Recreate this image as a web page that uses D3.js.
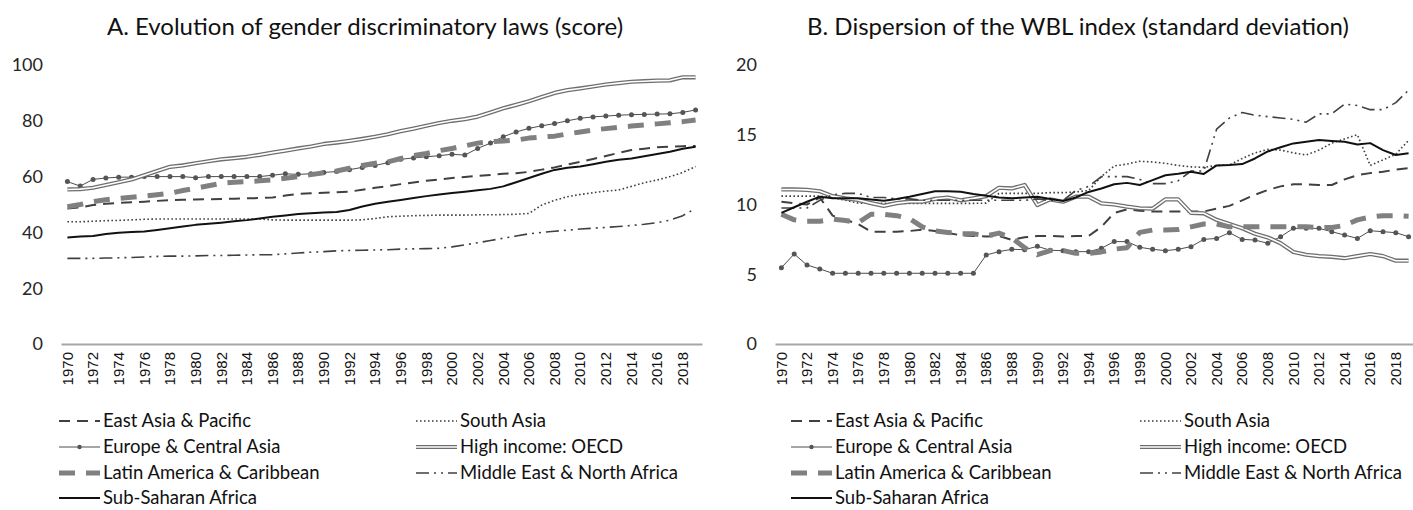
<!DOCTYPE html>
<html>
<head>
<meta charset="utf-8">
<script src="https://cdn.jsdelivr.net/npm/d3@7"></script>
<style>
  body { margin: 0; background: #fff; }
  svg { display: block; }
</style>
</head>
<body>
<svg width="1413" height="510"></svg>
<script>
// years on the x axis, labels every second year
const years = [1970,1971,1972,1973,1974,1975,1976,1977,1978,1979,
  1980,1981,1982,1983,1984,1985,1986,1987,1988,1989,
  1990,1991,1992,1993,1994,1995,1996,1997,1998,1999,
  2000,2001,2002,2003,2004,2005,2006,2007,2008,2009,
  2010,2011,2012,2013,2014,2015,2016,2017,2018,2019];
const yearTicks = [1970,1972,1974,1976,1978,1980,1982,1984,1986,1988,1990,1992,1994,
  1996,1998,2000,2002,2004,2006,2008,2010,2012,2014,2016,2018];
const ticksA = [0, 20, 40, 60, 80, 100];
const ticksB = [0, 5, 10, 15, 20];

// A. score
const eastAsiaA = [48.6,49,49.8,50.3,50.6,50.8,51,51.3,51.6,51.7,
  51.8,51.9,52,52.1,52.2,52.3,52.5,53.2,53.8,54,
  54.2,54.4,54.6,55.3,56,56.6,57.3,57.9,58.5,59,
  59.5,59.9,60.2,60.6,61,61.2,61.7,62.5,63.3,64.3,
  65.3,66.3,67.4,68.5,69.5,70,70.5,70.7,70.9,71];
const southAsiaA = [43.8,43.8,44,44.2,44.3,44.5,44.7,44.8,44.8,44.8,
  44.8,44.8,44.8,44.8,44.8,44.8,44.5,44.4,44.4,44.4,
  44.4,44.4,44.4,44.5,45,45.6,45.8,46,46.1,46.2,
  46.2,46.2,46.3,46.3,46.4,46.5,46.8,49.8,51.5,52.8,
  53.6,54.2,54.8,55.2,56.5,57.8,58.8,60,61.5,63.6];
const europeA = [58.2,56.6,59,59.5,59.8,59.8,60,60,60,60,
  59.6,60,60,60,60,60,60.5,61,60.8,61,
  61.5,61.8,62.5,63.3,64,65,66.2,66.7,67.1,67.5,
  68,67.7,70.1,72,74.3,76,77.3,78.2,79,80,
  80.9,81.4,81.7,82,82.2,82.3,82.4,82.5,83,83.9];
const highIncomeA = [55.4,55.5,56,57,58,59,60.5,62,63.5,64,
  64.8,65.5,66.2,66.6,67.1,67.8,68.6,69.3,70.1,70.8,
  71.7,72.2,72.8,73.5,74.3,75.2,76.3,77.2,78.2,79.2,
  80,80.6,81.5,83,84.5,85.7,87,88.5,90,91,
  91.6,92.3,93,93.5,94,94.2,94.4,94.5,95.6,95.6];
const latinA = [49.2,50,51,51.7,52.2,52.6,53,53.5,54,55,
  55.8,56.7,57.6,58,58.2,58.5,58.8,59.4,60,60.7,
  61.4,62,63,64,64.8,65.3,66.5,67.5,68.3,69.3,
  70.1,71,72,72.5,72.8,73.1,73.8,74.2,74.5,75.3,
  76,76.7,77.2,77.7,78.1,78.5,78.9,79.3,79.7,80.3];
const middleEastA = [30.7,30.7,30.7,30.8,30.9,31,31.2,31.4,31.5,31.5,
  31.6,31.7,31.7,31.8,31.9,32,32,32.3,32.6,32.9,
  33.1,33.4,33.5,33.6,33.7,33.8,34,34.1,34.2,34.3,
  34.8,35.5,36.3,37.1,37.9,38.7,39.5,40,40.4,40.8,
  41.2,41.5,41.8,42.1,42.5,42.9,43.5,44.4,46,48.6];
const subSaharanA = [38.2,38.5,38.7,39.4,39.9,40.1,40.3,40.9,41.5,42.1,
  42.7,43.1,43.5,44,44.4,45,45.6,46.1,46.6,46.9,
  47.1,47.3,48,49.3,50.3,51,51.6,52.3,53,53.6,
  54.1,54.6,55.1,55.6,56.5,58,59.5,61,62.4,63.2,
  63.6,64.4,65.3,66,66.5,67.3,68.1,68.9,70,70.7];

// B. standard deviation
const eastAsiaB = [10.2,10.1,10.0,10.5,9.2,8.9,8.6,8.05,8.05,8.05,
  8.1,8.2,8.1,7.95,7.8,7.75,7.7,7.75,7.46,7.65,
  7.75,7.75,7.7,7.74,7.74,8.4,9.4,9.65,9.55,9.5,
  9.49,9.49,9.49,9.5,9.7,9.9,10.3,10.7,11.04,11.3,
  11.45,11.45,11.4,11.4,11.8,12.1,12.25,12.35,12.5,12.6];
const southAsiaB = [10.6,10.6,10.6,10.6,10.5,10.3,10.1,10.08,10.08,10.08,
  10.08,10.08,10.08,10.08,10.08,10.08,10.1,10.8,10.8,10.8,
  10.8,10.85,10.85,10.9,11.0,12.0,12.76,12.9,13.1,13.05,
  12.95,12.8,12.7,12.66,12.8,12.83,13.3,13.7,13.95,13.9,
  13.7,13.55,13.9,14.4,14.7,15.0,12.8,13.2,13.6,14.6];
const europeB = [5.47,6.45,5.66,5.38,5.07,5.07,5.07,5.07,5.07,5.07,
  5.07,5.07,5.07,5.07,5.07,5.07,6.38,6.62,6.79,6.76,
  7.0,6.72,6.69,6.62,6.62,6.86,7.34,7.34,6.93,6.79,
  6.69,6.79,6.98,7.5,7.57,7.98,7.5,7.45,7.22,7.69,
  8.29,8.29,8.29,8.05,7.81,7.57,8.12,8.05,7.98,7.69];
const highIncomeB = [11.08,11.08,11.05,10.95,10.6,10.44,10.32,10.1,9.9,10.1,
  10.2,10.2,10.4,10.5,10.3,10.44,10.6,11.2,11.15,11.4,
  9.96,10.37,10.2,10.56,10.56,10.08,10.0,9.85,9.73,9.7,
  10.37,10.37,9.4,9.37,8.9,8.6,8.3,7.9,7.64,7.22,
  6.6,6.4,6.3,6.25,6.15,6.3,6.45,6.3,5.97,5.97];
const latinB = [9.3,8.9,8.8,8.8,8.95,8.85,8.7,9.3,9.3,9.2,
  9.0,8.4,8.1,8.0,7.9,7.9,7.75,7.95,7.6,6.9,
  6.4,6.7,6.7,6.5,6.5,6.6,6.8,6.9,8.0,8.17,
  8.17,8.2,8.4,8.6,8.6,8.4,8.4,8.4,8.4,8.4,
  8.4,8.4,8.35,8.35,8.5,8.9,9.1,9.2,9.2,9.15];
const middleEastB = [9.75,9.75,9.75,10.3,10.7,10.8,10.8,10.5,10.5,10.4,
  10.4,10.3,10.3,10.3,10.3,10.3,10.3,10.3,10.3,10.3,
  10.4,10.3,10.3,11.0,11.3,12.0,12.0,12.0,11.8,11.5,
  11.5,11.7,12.4,12.4,15.4,16.2,16.6,16.4,16.3,16.2,
  16.1,15.9,16.5,16.5,17.2,17.1,16.8,16.8,17.3,18.2];
const subSaharanB = [9.4,9.8,10.2,10.56,10.45,10.44,10.44,10.35,10.27,10.4,
  10.56,10.75,10.95,10.95,10.92,10.75,10.62,10.5,10.44,10.5,
  10.56,10.4,10.25,10.5,10.9,11.15,11.45,11.55,11.4,11.75,
  12.1,12.2,12.35,12.19,12.8,12.83,12.9,13.3,13.8,14.1,
  14.38,14.5,14.62,14.55,14.5,14.3,14.4,13.9,13.55,13.67];

const names = ["East Asia & Pacific", "South Asia", "Europe & Central Asia", "High income: OECD",
  "Latin America & Caribbean", "Middle East & North Africa", "Sub-Saharan Africa"];

// line styles, one per region
const styles = {
  "East Asia & Pacific": { stroke: "#404040", width: 2, dash: "11,7" },
  "South Asia": { stroke: "#404040", width: 1.6, dash: "1.6,2.4" },
  "Europe & Central Asia": { stroke: "#4d4d4d", width: 1, dash: null, marker: true },
  "High income: OECD": { stroke: "#6e6e6e", width: 4.2, dash: null, double: true },
  "Latin America & Caribbean": { stroke: "#808080", width: 5, dash: "16,11" },
  "Middle East & North Africa": { stroke: "#404040", width: 1.6, dash: "13,5,2,5,2,5" },
  "Sub-Saharan Africa": { stroke: "#111", width: 2, dash: null }
};

const svg = d3.select("svg");
const font = "Lato, 'Open Sans', sans-serif";

function panel(opts) {
  let x = d3.scaleBand().domain(years).range([opts.x0, opts.x1]);
  let y = d3.scaleLinear().domain(opts.domain).range([344, 65]);
  let g = svg.append("g");

  g.append("text")
    .attr("x", opts.titleX).attr("y", 35)
    .attr("text-anchor", "middle")
    .style("font", "24px " + font).style("fill", "#111")
    .text(opts.title);

  // y tick labels only, no axis line
  g.selectAll(".ytick").data(opts.ticks).enter().append("text")
    .attr("x", opts.x0 - 18).attr("y", d => y(d))
    .attr("dy", "0.35em").attr("text-anchor", "end")
    .style("font", "18px " + font).style("fill", "#262626")
    .text(d => d);

  let xAxis = g.append("g")
    .attr("transform", "translate(0,344)")
    .call(d3.axisBottom(x).tickValues(yearTicks).tickSize(0).tickPadding(7));
  xAxis.select(".domain").attr("stroke", "#a6a6a6").attr("stroke-width", 2);
  xAxis.selectAll("text")
    .attr("transform", "rotate(-90)")
    .attr("x", -8).attr("y", 0).attr("dy", "0.35em")
    .attr("text-anchor", "end")
    .style("font", "15px 'Liberation Sans', Arial, sans-serif").style("fill", "#111");

  let line = d3.line()
    .x((d, i) => x(years[i]) + x.bandwidth() / 2)
    .y(d => y(d));

  opts.series.forEach((vals, k) => {
    let st = styles[names[k]];
    g.append("path").datum(vals)
      .attr("d", line).attr("fill", "none")
      .attr("stroke", st.stroke).attr("stroke-width", st.width)
      .attr("stroke-dasharray", st.dash)
      .attr("stroke-linejoin", "round");
    if (st.double) {
      g.append("path").datum(vals)
        .attr("d", line).attr("fill", "none")
        .attr("stroke", "#fff").attr("stroke-width", 1.6)
        .attr("stroke-linejoin", "round");
    }
    if (st.marker) {
      g.selectAll(null).data(vals).enter().append("circle")
        .attr("cx", (d, i) => x(years[i]) + x.bandwidth() / 2)
        .attr("cy", d => y(d)).attr("r", 2.5)
        .attr("fill", "#555");
    }
  });

  // legend: two columns, four rows
  let rows = [421, 447, 473, 498];
  names.forEach((name, k) => {
    let col = k % 2, row = Math.floor(k / 2);
    let tx = col === 0 ? opts.leg1 : opts.leg2;
    let cy = rows[row];
    let st = styles[name];
    let lg = g.append("g");
    let x0 = tx - 44, x1 = tx - 3;
    lg.append("line").attr("x1", x0).attr("x2", x1).attr("y1", cy).attr("y2", cy)
      .attr("stroke", st.stroke).attr("stroke-width", st.width)
      .attr("stroke-dasharray", st.dash);
    if (st.double) {
      lg.append("line").attr("x1", x0).attr("x2", x1).attr("y1", cy).attr("y2", cy)
        .attr("stroke", "#fff").attr("stroke-width", 1.6);
    }
    if (st.marker) {
      lg.append("circle").attr("cx", (x0 + x1) / 2).attr("cy", cy).attr("r", 2.2).attr("fill", "#555");
    }
    lg.append("text").attr("x", tx).attr("y", cy).attr("dy", "0.35em")
      .style("font", "18.5px " + font).style("fill", "#111")
      .text(name);
  });
}

panel({
  x0: 61, x1: 702, domain: [0, 100], ticks: ticksA,
  title: "A. Evolution of gender discriminatory laws (score)", titleX: 365,
  series: [eastAsiaA, southAsiaA, europeA, highIncomeA, latinA, middleEastA, subSaharanA],
  leg1: 103, leg2: 460
});

panel({
  x0: 775, x1: 1415, domain: [0, 20], ticks: ticksB,
  title: "B. Dispersion of the WBL index (standard deviation)", titleX: 1078,
  series: [eastAsiaB, southAsiaB, europeB, highIncomeB, latinB, middleEastB, subSaharanB],
  leg1: 835, leg2: 1184
});
</script>
</body>
</html>
